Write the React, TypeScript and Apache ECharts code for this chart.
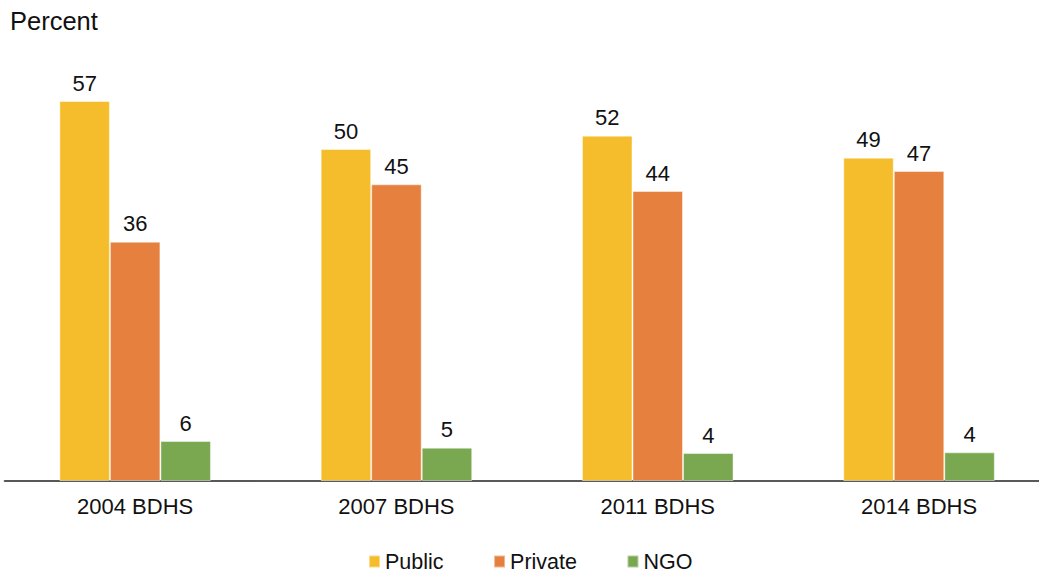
import React, { useEffect, useRef } from "react";
import * as echarts from "echarts";

const categories = ["2004 BDHS", "2007 BDHS", "2011 BDHS", "2014 BDHS"];
const publicValues = [57, 49.8, 51.8, 48.5];
const privateValues = [35.9, 44.5, 43.5, 46.5];
const ngoValues = [6, 5, 4.2, 4.3];
const seriesNames = ["Public", "Private", "NGO"];
const colors = ["#F5BD2B", "#E5803F", "#79A851"];
const yAxisTitle = "Percent";

const FONT = "'Liberation Sans', Arial, sans-serif";

export default function App() {
  const ref = useRef<HTMLDivElement>(null);
  useEffect(() => {
    if (!ref.current) return;
    const chart = echarts.init(ref.current, undefined, { renderer: "svg" });
    const data = [publicValues, privateValues, ngoValues];
    chart.setOption({
      animation: false,
      textStyle: { fontFamily: FONT },
      graphic: [
        {
          type: "text",
          x: 10,
          y: 21,
          style: {
            text: yAxisTitle,
            font: `25.5px ${FONT}`,
            fill: "#111",
            textVerticalAlign: "middle",
          },
        },
      ],
      legend: {
        data: seriesNames,
        left: 368,
        top: 550.5,
        padding: 0,
        itemWidth: 11,
        itemHeight: 12,
        itemGap: 49.5,
        icon: "rect",
        textStyle: { fontSize: 21.5, color: "#111", fontFamily: FONT },
      },
      grid: { left: 4.5, right: 10.3, top: 81, bottom: 92 },
      xAxis: {
        type: "category",
        data: categories,
        axisLine: { lineStyle: { color: "#222", width: 1.5 } },
        axisTick: { show: false },
        axisLabel: { fontSize: 22, color: "#111", margin: 14, fontFamily: FONT },
      },
      yAxis: {
        type: "value",
        min: 0,
        max: 60,
        show: false,
        splitLine: { show: false },
      },
      series: seriesNames.map((name, i) => ({
        name,
        type: "bar",
        data: data[i],
        barGap: "0%",
        barCategoryGap: "42%",
        itemStyle: {
          color: colors[i],
          borderColor: "rgba(255,255,255,0.45)",
          borderWidth: 1,
        },
        label: {
          show: true,
          position: "top",
          distance: 7,
          fontSize: 22,
          color: "#111",
          fontFamily: FONT,
          formatter: (p: any) => String(Math.round(p.value)),
        },
      })),
    });
    return () => chart.dispose();
  }, []);
  return (
    <div
      style={{
        position: "fixed",
        left: 0,
        top: 0,
        width: 1039,
        height: 573,
        overflow: "hidden",
        background: "#fff",
      }}
    >
      <div ref={ref} style={{ width: 1060, height: 573 }} />
    </div>
  );
}
